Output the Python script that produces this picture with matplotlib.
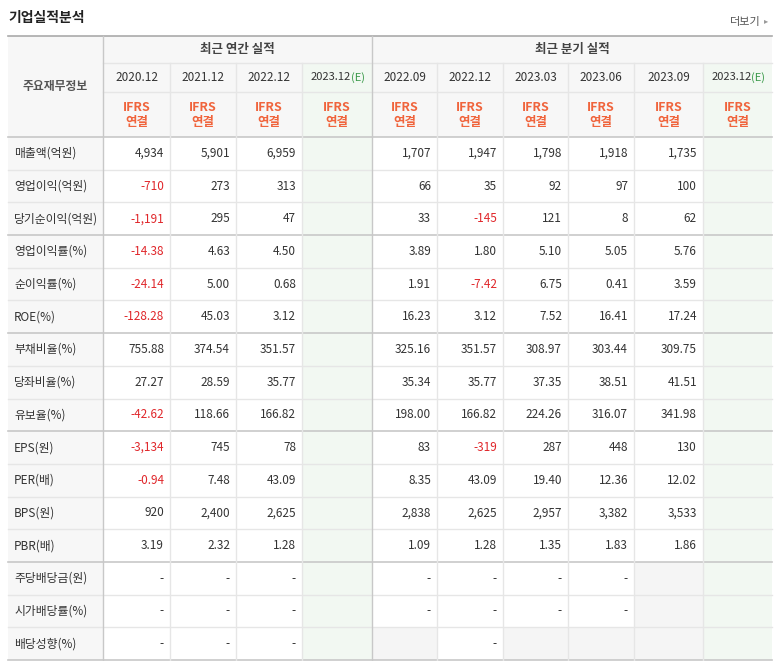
import matplotlib
matplotlib.use("Agg")
import matplotlib.pyplot as plt
from matplotlib.patches import Rectangle

plt.rcParams["font.family"] = ["Noto Sans CJK KR", "DejaVu Sans"]

title = "기업실적분석"
more = "더보기"
annual_periods = ["2020.12", "2021.12", "2022.12", "2023.12(E)"]
quarter_periods = ["2022.09", "2022.12", "2023.03", "2023.06", "2023.09", "2023.12(E)"]
row_labels = ["매출액(억원)", "영업이익(억원)", "당기순이익(억원)", "영업이익률(%)", "순이익률(%)",
              "ROE(%)", "부채비율(%)", "당좌비율(%)", "유보율(%)", "EPS(원)", "PER(배)",
              "BPS(원)", "PBR(배)", "주당배당금(원)", "시가배당률(%)", "배당성향(%)"]
# None = grey empty cell, "" = empty cell
annual_values = [
    ["4,934", "5,901", "6,959", ""],
    ["-710", "273", "313", ""],
    ["-1,191", "295", "47", ""],
    ["-14.38", "4.63", "4.50", ""],
    ["-24.14", "5.00", "0.68", ""],
    ["-128.28", "45.03", "3.12", ""],
    ["755.88", "374.54", "351.57", ""],
    ["27.27", "28.59", "35.77", ""],
    ["-42.62", "118.66", "166.82", ""],
    ["-3,134", "745", "78", ""],
    ["-0.94", "7.48", "43.09", ""],
    ["920", "2,400", "2,625", ""],
    ["3.19", "2.32", "1.28", ""],
    ["-", "-", "-", ""],
    ["-", "-", "-", ""],
    ["-", "-", "-", ""],
]
quarter_values = [
    ["1,707", "1,947", "1,798", "1,918", "1,735", ""],
    ["66", "35", "92", "97", "100", ""],
    ["33", "-145", "121", "8", "62", ""],
    ["3.89", "1.80", "5.10", "5.05", "5.76", ""],
    ["1.91", "-7.42", "6.75", "0.41", "3.59", ""],
    ["16.23", "3.12", "7.52", "16.41", "17.24", ""],
    ["325.16", "351.57", "308.97", "303.44", "309.75", ""],
    ["35.34", "35.77", "37.35", "38.51", "41.51", ""],
    ["198.00", "166.82", "224.26", "316.07", "341.98", ""],
    ["83", "-319", "287", "448", "130", ""],
    ["8.35", "43.09", "19.40", "12.36", "12.02", ""],
    ["2,838", "2,625", "2,957", "3,382", "3,533", ""],
    ["1.09", "1.28", "1.35", "1.83", "1.86", ""],
    ["-", "-", "-", "-", None, ""],
    ["-", "-", "-", "-", None, ""],
    [None, "-", None, None, None, ""],
]

W, H = 782, 661
fig = plt.figure(figsize=(W / 100, H / 100), dpi=100)
ax = fig.add_axes([0, 0, 1, 1])
ax.set_xlim(0, W); ax.set_ylim(H, 0); ax.axis("off")

xs = [8, 103, 170, 236, 302, 372, 437, 503, 568, 634, 703, 772]
y0, y1, y2, y3 = 36, 63, 92, 137
rh = (660 - y3) / len(row_labels)
TXT = "#333333"; RED = "#e0262a"; ORG = "#f0643c"; GRN = "#3a9a4a"
LINE = "#e6e6e6"; DARK = "#c8c8c8"
HDR = "#f7f7f7"; EST = "#f2f8f2"; GREY = "#f5f5f5"

ax.text(8, 18, title, fontsize=10, fontweight="bold", color="#222", va="center")
ax.text(730, 22, more, fontsize=8, color="#555", va="center")
ax.text(764, 21, "▸", fontsize=6, color="#999", va="center", family="DejaVu Sans")

ax.add_patch(Rectangle((xs[0], y0), xs[-1] - xs[0], y3 - y0, color=HDR, lw=0))
ax.add_patch(Rectangle((xs[0], y3), xs[1] - xs[0], 660 - y3, color=HDR, lw=0))
for c in [4, 10]:
    ax.add_patch(Rectangle((xs[c], y1), xs[c + 1] - xs[c], 660 - y1, color=EST, lw=0))

values_all = [a + q for a, q in zip(annual_values, quarter_values)]
for r, row in enumerate(values_all):
    ytop = y3 + r * rh
    ax.text(xs[0] + 6, ytop + rh / 2, row_labels[r], fontsize=8.5, color=TXT, va="center")
    for c, v in enumerate(row):
        col = c + 1
        if v is None:
            ax.add_patch(Rectangle((xs[col], ytop), xs[col + 1] - xs[col], rh, color=GREY, lw=0))
            continue
        if v:
            ax.text(xs[col + 1] - 6, ytop + rh / 2, v, fontsize=8.5, ha="right", va="center",
                    color=RED if v.startswith("-") and len(v) > 1 else TXT)

ax.text((xs[1] + xs[5]) / 2, (y0 + y1) / 2, "최근 연간 실적", fontsize=9, fontweight="bold", color="#444", ha="center", va="center")
ax.text((xs[5] + xs[-1]) / 2, (y0 + y1) / 2, "최근 분기 실적", fontsize=9, fontweight="bold", color="#444", ha="center", va="center")
ax.text((xs[0] + xs[1]) / 2, (y0 + y3) / 2, "주요재무정보", fontsize=8.5, fontweight="bold", color="#555", ha="center", va="center")
for i, p in enumerate(annual_periods + quarter_periods):
    cx = (xs[i + 1] + xs[i + 2]) / 2
    if p.endswith("(E)"):
        ax.text(cx + 14, (y1 + y2) / 2, p[:-3], fontsize=8, color=TXT, ha="right", va="center")
        ax.text(cx + 14, (y1 + y2) / 2, "(E)", fontsize=8, color=GRN, ha="left", va="center")
    else:
        ax.text(cx, (y1 + y2) / 2, p, fontsize=8.5, color=TXT, ha="center", va="center")
    ax.text(cx, (y2 + y3) / 2 - 7, "IFRS", fontsize=9, fontweight="bold", color=ORG, ha="center", va="center")
    ax.text(cx, (y2 + y3) / 2 + 8, "연결", fontsize=9, fontweight="bold", color=ORG, ha="center", va="center")

ax.plot([xs[0], xs[-1]], [y0, y0], color="#aaaaaa", lw=1.2)
ax.plot([xs[1], xs[-1]], [y1, y1], color=LINE, lw=1)
ax.plot([xs[1], xs[-1]], [y2, y2], color=LINE, lw=1)
ax.plot([xs[0], xs[-1]], [y3, y3], color=DARK, lw=1.2)
for r in range(1, len(row_labels) + 1):
    y = y3 + r * rh
    dark = r in (3, 6, 9, 13, 16)
    ax.plot([xs[0], xs[-1]], [y, y], color=DARK if dark else LINE, lw=1.2 if dark else 1)
for i, x in enumerate(xs[1:-1], start=1):
    top = y0 if i in (1, 5) else y1
    ax.plot([x, x], [top, 660], color=DARK if i in (1, 5) else LINE, lw=1)

fig.savefig("out.png", dpi=100)
